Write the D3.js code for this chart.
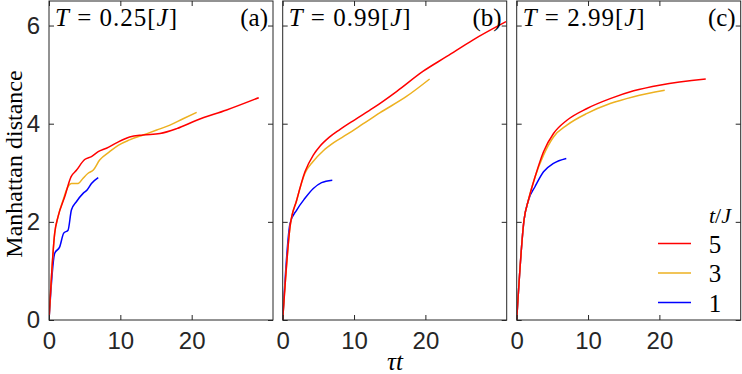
<!DOCTYPE html>
<html><head><meta charset="utf-8">
<script src="https://cdn.jsdelivr.net/npm/d3@7"></script>
<style>body{margin:0;background:#fff}svg{display:block}</style>
</head><body>
<svg id="c" width="742" height="374"></svg>
<script>
const panels = ["a","b","c"];
const temps = ["0.25","0.99","2.99"];
const seriesNames = ["5","3","1"];
const colors = ["#ff0000","#edb120","#0000ff"];
const xTicks = [0,10,20];
const yTicks = [0,2,4,6];
// [tau t, distance]
const aRed = [[0,0],[0.8,1.77],[1.26,2.1],[2.2,2.51],[3.1,2.92],[3.84,3.05],[5.0,3.27],[5.95,3.33],[6.9,3.43],[8.05,3.5],[9.46,3.61],[11.3,3.73],[13.2,3.77],[15.55,3.8],[17.9,3.9],[20.7,4.07],[24.9,4.28],[29.4,4.53]];
const aYel = [[0,0],[0.8,1.77],[1.26,2.1],[1.97,2.44],[2.67,2.72],[3.14,2.78],[4.07,2.78],[4.78,2.89],[5.48,2.99],[6.18,3.05],[7.1,3.26],[8.5,3.43],[9.7,3.56],[11.3,3.67],[13.2,3.77],[15.1,3.87],[16.95,3.97],[18.8,4.1],[20.7,4.23]];
const aBlu = [[0,0],[0.8,1.36],[1.5,1.49],[2.06,1.77],[2.67,1.83],[3.14,2.24],[3.84,2.41],[4.78,2.58],[5.34,2.65],[5.95,2.78],[6.9,2.9]];
const bRed = [[0,0],[1.03,1.9],[1.96,2.44],[3.12,3.02],[4.29,3.36],[5.22,3.54],[6.5,3.72],[8.0,3.88],[10.1,4.08],[12.7,4.32],[16.0,4.66],[19.7,5.07],[23.0,5.37],[26.7,5.71],[31.3,6.08]];
const bYel = [[0,0],[1.03,1.9],[1.96,2.44],[3.12,2.99],[4.2,3.22],[5.69,3.45],[7.2,3.62],[9.0,3.78],[11.3,4.0],[13.6,4.22],[17.4,4.56],[20.6,4.91]];
const bBlu = [[0,0],[1.03,1.97],[1.96,2.24],[3.12,2.48],[4.29,2.68],[5.45,2.8],[6.95,2.85]];
const cRed = [[0,0],[1.03,2.04],[1.64,2.44],[2.58,2.92],[3.76,3.43],[5.16,3.8],[7.04,4.07],[9.86,4.31],[13.1,4.51],[16.4,4.67],[20.2,4.79],[26.5,4.91]];
const cYel = [[0,0],[1.03,2.04],[1.64,2.44],[2.58,2.92],[3.76,3.36],[5.16,3.73],[7.04,3.97],[9.86,4.21],[13.1,4.41],[16.4,4.55],[20.75,4.68]];
const cBlu = [[0,0],[1.03,2.04],[1.64,2.44],[2.58,2.72],[3.76,3.02],[5.16,3.19],[6.95,3.29]];
const data = [[aRed,aYel,aBlu],[bRed,bYel,bBlu],[cRed,cYel,cBlu]];

const svg = d3.select("#c");
const panelLeft = [49, 282.7, 516.7];
const pw = 224, plotTop = 1, plotBottom = 320;
const serif = "'Liberation Serif', serif";
const sans = "'Liberation Sans', Arial, sans-serif";
const axCol = "#262626";

const y = d3.scaleLinear().domain([0,6.5]).range([plotBottom, plotTop]);

panels.forEach((p,i) => {
  const x = d3.scaleLinear().domain([0,31.4]).range([panelLeft[i], panelLeft[i]+pw]);
  const g = svg.append("g");
  const cid = "clip"+i;
  svg.append("clipPath").attr("id",cid).append("rect")
    .attr("x",x.range()[0]).attr("y",plotTop).attr("width",pw).attr("height",plotBottom-plotTop);
  const line = d3.line().x(d=>x(d[0])).y(d=>y(d[1])).curve(d3.curveMonotoneX);
  [2,1,0].forEach(k => {
    g.append("path").attr("d", line(data[i][k])).attr("fill","none")
      .attr("stroke", colors[k]).attr("stroke-width",1.5).attr("clip-path","url(#"+cid+")");
  });
  const tl = 5;
  const xb = g.append("g").attr("transform",`translate(0,${plotBottom})`)
    .call(d3.axisBottom(x).tickValues(xTicks).tickSize(-tl).tickPadding(12).tickFormat(d3.format("d")));
  const xt = g.append("g").attr("transform",`translate(0,${plotTop})`)
    .call(d3.axisTop(x).tickValues(xTicks).tickSize(-tl).tickFormat(""));
  const yl = g.append("g").attr("transform",`translate(${x.range()[0]},0)`)
    .call(d3.axisLeft(y).tickValues(yTicks).tickSize(-tl).tickPadding(9).tickFormat(i===0?d3.format("d"):""));
  const yr = g.append("g").attr("transform",`translate(${x.range()[1]},0)`)
    .call(d3.axisRight(y).tickValues(yTicks).tickSize(-tl).tickFormat(""));
  [xb,xt,yl,yr].forEach(a => {
    a.select(".domain").remove();
    a.selectAll("line").attr("stroke",axCol);
    a.selectAll("text").attr("font-family",sans).attr("font-size",24).attr("fill",axCol);
  });
  g.append("rect").attr("x",x.range()[0]).attr("y",plotTop).attr("width",pw).attr("height",plotBottom-plotTop)
    .attr("fill","none").attr("stroke",axCol).attr("stroke-width",1);
  const t = g.append("text").attr("x",x.range()[0]+6).attr("y",26)
    .attr("font-family",serif).attr("font-size",25).attr("fill","#000")
    .attr("textLength",122).attr("lengthAdjust","spacing");
  t.append("tspan").attr("font-style","italic").text("T");
  t.append("tspan").text(" = " + temps[i] + "[");
  t.append("tspan").attr("font-style","italic").text("J");
  t.append("tspan").text("]");
  g.append("text").attr("x",x.range()[1]-5).attr("y",26).attr("text-anchor","end")
    .attr("font-family",serif).attr("font-size",25).text("("+p+")");

  if (i===2) {
    const lg = g.append("g");
    const tt = lg.append("text").attr("x",731).attr("y",223).attr("text-anchor","end")
      .attr("font-family",serif).attr("font-size",22);
    tt.append("tspan").attr("font-style","italic").text("t");
    tt.append("tspan").text("/");
    tt.append("tspan").attr("font-style","italic").text("J");
    seriesNames.forEach((s,k) => {
      const ly = 243.5 + k*29.5;
      lg.append("line").attr("x1",658).attr("x2",691).attr("y1",ly).attr("y2",ly)
        .attr("stroke",colors[k]).attr("stroke-width",1.5);
      lg.append("text").attr("x",715).attr("y",ly+9).attr("text-anchor","middle")
        .attr("font-family",serif).attr("font-size",25).text(s);
    });
  }
});

svg.append("text").attr("transform","translate(22,164) rotate(-90)").attr("text-anchor","middle")
  .attr("font-family",serif).attr("font-size",24).text("Manhattan distance");
const xl = svg.append("text").attr("x",395).attr("y",370).attr("text-anchor","middle")
  .attr("font-family",serif).attr("font-size",25);
xl.append("tspan").attr("font-style","italic").text("τt");
</script>
</body></html>
